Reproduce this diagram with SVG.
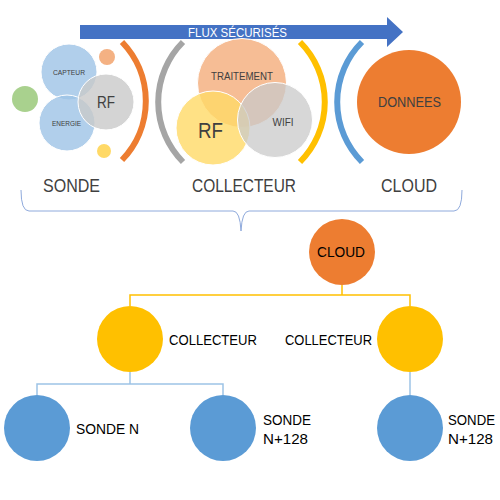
<svg xmlns="http://www.w3.org/2000/svg" width="500" height="500" viewBox="0 0 500 500">
<style>
text{font-family:"Liberation Sans","DejaVu Sans",sans-serif}
.lbl{fill:#404040}
.blk{fill:#000}
.ov{stroke:#fff;stroke-width:1}
.arc{fill:none;stroke-width:6}
.link{fill:none;stroke-width:1.5}
</style>
<rect width="500" height="500" fill="#fff"/>

<g id="flux">
<path d="M80,25 L387,25 L387,17 L403,32 L387,47 L387,39 L80,39 Z" fill="#4472C4"/>
<text x="237.5" y="37" font-size="13.5" fill="#fff" text-anchor="middle" textLength="99" lengthAdjust="spacingAndGlyphs">FLUX SÉCURISÉS</text>
</g>

<g id="sonde-group">
<circle cx="25" cy="99" r="13" fill="#A9D18E"/>
<circle cx="107" cy="57" r="8" fill="#F4B183"/>
<circle cx="104" cy="151" r="7" fill="#FFD966"/>
<circle class="ov" cx="69" cy="72" r="28" fill="#9DC3E6" fill-opacity="0.8"/>
<circle class="ov" cx="67" cy="123" r="28" fill="#9DC3E6" fill-opacity="0.8"/>
<circle class="ov" cx="106" cy="102" r="28" fill="#C9C9C9" fill-opacity="0.8"/>
<text class="lbl" x="69" y="74.5" font-size="8" text-anchor="middle" textLength="32" lengthAdjust="spacingAndGlyphs">CAPTEUR</text>
<text class="lbl" x="66.5" y="125.5" font-size="8" text-anchor="middle" textLength="29" lengthAdjust="spacingAndGlyphs">ENERGIE</text>
<text class="lbl" x="106" y="108" font-size="17" text-anchor="middle" textLength="18" lengthAdjust="spacingAndGlyphs">RF</text>
<path class="arc" d="M122,42 A85,85 0 0 1 122,160" stroke="#ED7D31"/>
</g>

<g id="collecteur-group">
<path class="arc" d="M183,42 A85,85 0 0 0 183,162" stroke="#A5A5A5"/>
<circle class="ov" cx="242" cy="83" r="44.5" fill="#F4B183" fill-opacity="0.85"/>
<circle class="ov" cx="213" cy="128" r="37" fill="#FFD966" fill-opacity="0.8"/>
<circle class="ov" cx="275" cy="120" r="37.5" fill="#C9C9C9" fill-opacity="0.75"/>
<text class="lbl" x="242" y="79.5" font-size="10" text-anchor="middle" textLength="62" lengthAdjust="spacingAndGlyphs">TRAITEMENT</text>
<text class="lbl" x="210.5" y="138" font-size="22" text-anchor="middle" textLength="25" lengthAdjust="spacingAndGlyphs">RF</text>
<text class="lbl" x="283" y="125.5" font-size="10" text-anchor="middle">WIFI</text>
<path class="arc" d="M300,42 A85,85 0 0 1 300,162" stroke="#FFC000"/>
</g>

<g id="cloud-group">
<path class="arc" d="M362,42 A85,85 0 0 0 362,162" stroke="#5B9BD5"/>
<circle cx="409" cy="102" r="52" fill="#ED7D31"/>
<text class="lbl" x="409.5" y="107" font-size="14" text-anchor="middle" textLength="63" lengthAdjust="spacingAndGlyphs">DONNEES</text>
</g>

<g id="top-labels">
<text class="lbl" x="71.5" y="192" font-size="18" text-anchor="middle" textLength="57" lengthAdjust="spacingAndGlyphs">SONDE</text>
<text class="lbl" x="244" y="192" font-size="18" text-anchor="middle" textLength="104" lengthAdjust="spacingAndGlyphs">COLLECTEUR</text>
<text class="lbl" x="409" y="192" font-size="18" text-anchor="middle" textLength="56" lengthAdjust="spacingAndGlyphs">CLOUD</text>
</g>

<g id="connectors">
<path d="M21,190 Q21,211 29,211 L233,211 Q240,211 241,231 Q242,211 249,211 L454,211 Q462,211 462,190" fill="none" stroke="#8FAADC" stroke-width="1"/>
<path class="link" d="M342,285 L342,295 M130,306 L130,295 L410,295 L410,306" stroke="#FFC000"/>
<path class="link" d="M130,372 L130,384 M37,395 L37,384 L223,384 L223,395" stroke="#9DC3E6"/>
<path class="link" d="M410,372 L410,395" stroke="#9DC3E6"/>
</g>

<g id="tree-cloud">
<circle cx="342" cy="252" r="33" fill="#ED7D31"/>
<text class="blk" x="341" y="257" font-size="15" text-anchor="middle" textLength="48" lengthAdjust="spacingAndGlyphs">CLOUD</text>
</g>
<g id="tree-collecteur-1">
<circle cx="130" cy="339" r="33" fill="#FFC000"/>
<text class="blk" x="169" y="344.5" font-size="15" textLength="88" lengthAdjust="spacingAndGlyphs">COLLECTEUR</text>
</g>
<g id="tree-collecteur-2">
<circle cx="410" cy="339" r="33" fill="#FFC000"/>
<text class="blk" x="372" y="345" font-size="15" text-anchor="end" textLength="87" lengthAdjust="spacingAndGlyphs">COLLECTEUR</text>
</g>
<g id="tree-sonde-1">
<circle cx="37" cy="428" r="33" fill="#5B9BD5"/>
<text class="blk" x="76" y="433.5" font-size="15" textLength="63" lengthAdjust="spacingAndGlyphs">SONDE N</text>
</g>
<g id="tree-sonde-2">
<circle cx="223" cy="428" r="33" fill="#5B9BD5"/>
<text class="blk" x="263" y="425" font-size="15" textLength="48" lengthAdjust="spacingAndGlyphs">SONDE</text>
<text class="blk" x="263" y="443.5" font-size="15" textLength="45" lengthAdjust="spacingAndGlyphs">N+128</text>
</g>
<g id="tree-sonde-3">
<circle cx="410" cy="428" r="33" fill="#5B9BD5"/>
<text class="blk" x="448" y="425" font-size="15" textLength="47" lengthAdjust="spacingAndGlyphs">SONDE</text>
<text class="blk" x="448" y="443.5" font-size="15" textLength="45" lengthAdjust="spacingAndGlyphs">N+128</text>
</g>
</svg>
